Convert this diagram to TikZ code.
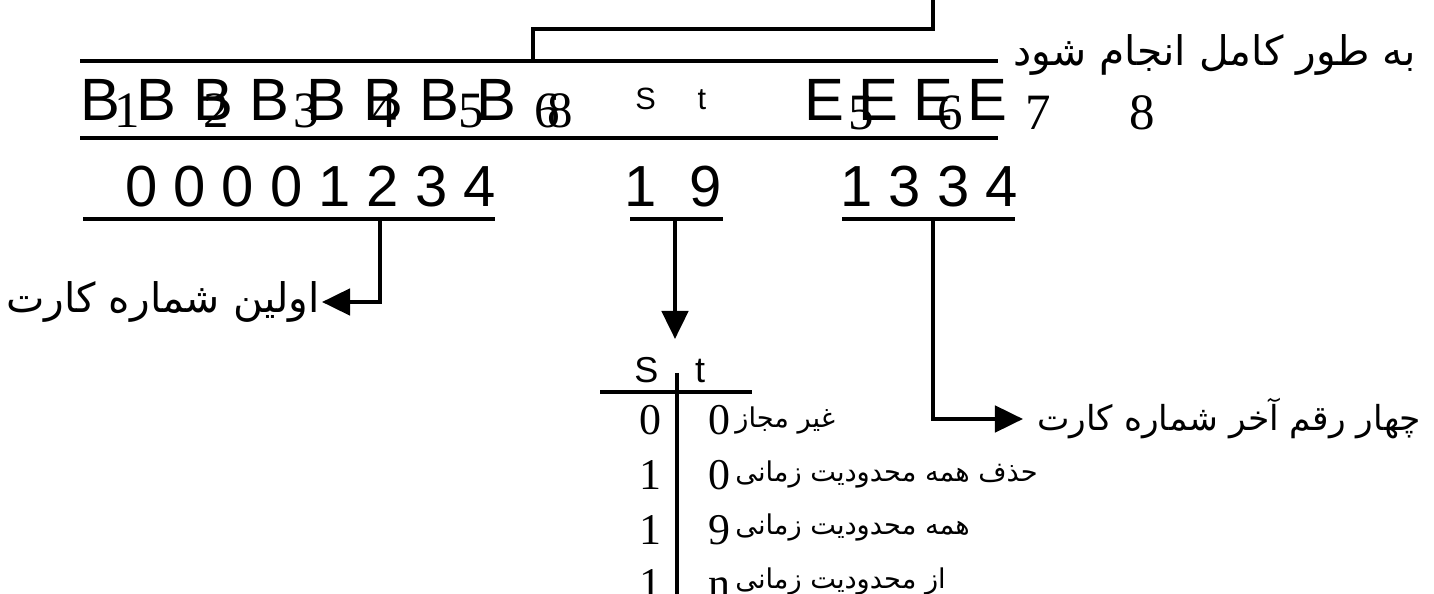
\documentclass[tikz,border=0pt]{standalone}
\usepackage{fontspec}
\setmainfont{Liberation Serif}
\setsansfont{Liberation Sans}
\newfontfamily\farsifont[Script=Arabic]{DejaVu Sans}
\TeXXeTstate=1
\usetikzlibrary{arrows.meta}

\tikzset{
  bigglyph/.style={inner sep=0pt, anchor=base, font=\sffamily\fontsize{34}{34}\selectfont},
  subglyph/.style={inner sep=0pt, anchor=base, font=\rmfamily\fontsize{29}{29}\selectfont},
  midglyph/.style={inner sep=0pt, anchor=base, font=\sffamily\fontsize{17.5}{17.5}\selectfont},
  numrow/.style={inner sep=0pt, anchor=base, font=\sffamily\fontsize{33}{33}\selectfont},
  tabhead/.style={inner sep=0pt, anchor=base, font=\sffamily\fontsize{20.5}{20.5}\selectfont},
  tabnum/.style={inner sep=0pt, anchor=base, font=\rmfamily\fontsize{25}{25}\selectfont},
  falabel/.style={inner sep=1pt, font=\farsifont\fontsize{23.2}{23.2}\selectfont},
  fatext/.style={inner sep=0pt, anchor=base west, font=\farsifont\fontsize{15.5}{15.5}\selectfont},
  thickline/.style={line width=2.3pt},
  arr/.style={line width=2.3pt, -{Triangle[length=16pt,width=15pt]}},
}

\begin{document}
\begin{tikzpicture}[x=0.02cm, y=-0.02cm]
  \useasboundingbox (0,0) rectangle (1434,594);
  \clip (0,0) rectangle (1434,594);

  % B and E row between two lines
  \draw[thickline] (80,61) -- (998,61);
  \draw[thickline] (80,138) -- (998,138);
  \foreach \i in {0,...,7}
    \node[bigglyph] (b\i) at (100+56.6*\i,121) {B};
  \foreach \d/\x in {1/127.5, 2/216.5, 3/306, 4/384.5, 5/471, 6/547.5, 8/560}
    \node[subglyph] (bs\d) at (\x,128) {\d};
  \node[midglyph] (s) at (645.5,110) {S};
  \node[midglyph] (t) at (702,110) {t};
  \foreach \i/\x in {1/824, 2/878.5, 3/933, 4/987.5}
    \node[bigglyph] (e\i) at (\x,121) {E};
  \foreach \d/\x in {5/861, 6/950, 7/1038, 8/1142.5}
    \node[subglyph] (es\d) at (\x,130) {\d};
  \node[falabel, anchor=base east] (done) at (1418,66) {\beginR به طور کامل انجام شود\endR};

  % bracket to the top
  \coordinate (brka) at (533,61);
  \coordinate (brkb) at (933,29);
  \coordinate (brkc) at (933,-5);
  \draw[thickline] (brka) |- (brkb) -- (brkc);

  % card number groups
  \node[numrow] (first) at (310.5,207) {0 0 0 0 1 2 3 4};
  \node[numrow] (st) at (673,207) {1~~9};
  \node[numrow] (last) at (929,207) {1 3 3 4};
  \draw[thickline] (83,219) -- (495,219);
  \draw[thickline] (630,219) -- (723,219);
  \draw[thickline] (842,219) -- (1015,219);

  % labels and arrows
  \node[falabel, anchor=east] (firstlbl) at (322,302) {\beginR اولین شماره کارت\endR};
  \node[falabel, anchor=west, inner xsep=8pt, font=\farsifont\fontsize{19.6}{19.6}\selectfont] (lastlbl) at (1023,419) {\beginR چهار رقم آخر شماره کارت\endR};
  \coordinate (firstbar) at (380,219);
  \coordinate (stbar) at (675,219);
  \coordinate (lastbar) at (933,219);
  \coordinate (tabtop) at (675,339);
  \draw[arr] (firstbar) |- (firstlbl);
  \draw[arr] (lastbar) |- (lastlbl);
  \draw[arr] (stbar) -- (tabtop);

  % S t table
  \node[tabhead] (tabs) at (646.5,383) {S};
  \node[tabhead] (tabt) at (700,383) {t};
  \draw[thickline] (600,392) -- (752,392);
  \draw[thickline] (677,373) -- (677,600);
  \foreach \l/\r/\txt [count=\k from 0] in {0/0/غیر مجاز, 1/0/حذف همه محدودیت زمانی, 1/9/همه محدودیت زمانی, 1/n/از محدودیت زمانی} {
    \node[tabnum] (l\k) at (650,435+54.5*\k) {\l};
    \node[tabnum] (r\k) at (719,435+54.5*\k) {\r};
    \node[fatext] (txt\k) at (735,428+53.5*\k) {\beginR\txt\endR};
  }
\end{tikzpicture}
\end{document}
